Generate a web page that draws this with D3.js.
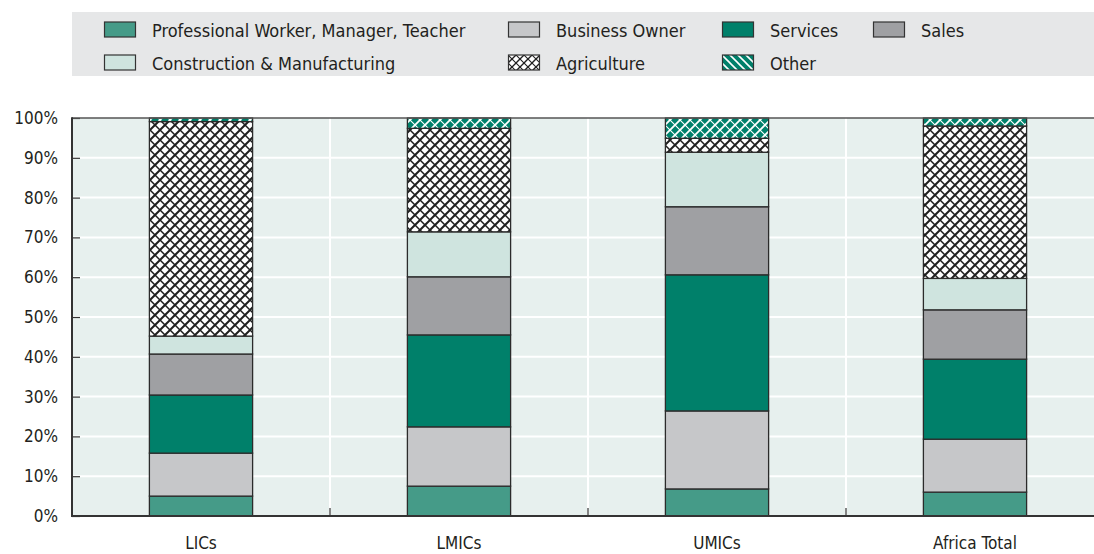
<!DOCTYPE html>
<html><head><meta charset="utf-8">
<script src="https://cdn.jsdelivr.net/npm/d3@7"></script>
<style>
html,body{margin:0;padding:0;background:#fff;}
svg{display:block;}
text{font-family:"Liberation Sans Narrow","DejaVu Sans Condensed","Roboto",sans-serif;fill:#231f20;}
</style></head>
<body><svg id="chart" width="1094" height="554"></svg>
<script>
const categories = ["LICs", "LMICs", "UMICs", "Africa Total"];
const seriesNames = ["Professional Worker, Manager, Teacher", "Business Owner", "Services", "Sales", "Construction & Manufacturing", "Agriculture", "Other"];
const professional = [5.0, 7.5, 6.8, 6.0];
const businessOwner = [10.8, 14.9, 19.6, 13.3];
const services = [14.6, 23.1, 34.2, 20.1];
const sales = [10.3, 14.6, 17.1, 12.4];
const construction = [4.5, 11.3, 13.7, 7.9];
const agriculture = [53.9, 26.0, 3.5, 38.3];
const other = [0.9, 2.6, 5.1, 2.0];
const yTicks = [0, 10, 20, 30, 40, 50, 60, 70, 80, 90, 100];
const legendOrder = [
  ["Professional Worker, Manager, Teacher", "Business Owner", "Services", "Sales"],
  ["Construction & Manufacturing", "Agriculture", "Other"]
];

const seriesValues = [professional, businessOwner, services, sales, construction, agriculture, other];
const keys = ["prof", "biz", "serv", "sales", "cons", "agri", "other"];
const fills = {prof:"#459b88", biz:"#c6c7c9", serv:"#00806a", sales:"#9fa0a3", cons:"#cfe4df", agri:"url(#hatchAgri)", other:"url(#hatchOther)"};
const legendFills = {prof:"#459b88", biz:"#c6c7c9", serv:"#00806a", sales:"#9fa0a3", cons:"#cfe4df", agri:"url(#hatchAgriLeg)", other:"url(#hatchOtherLeg)"};

const rows = categories.map((c, i) => {
  const r = {cat: c};
  keys.forEach((k, j) => r[k] = seriesValues[j][i]);
  return r;
});

const svg = d3.select("#chart");
const defs = svg.append("defs");
const FONT = '"Liberation Sans Narrow","DejaVu Sans Condensed",sans-serif';

function crossHatch(id, bg, fg, size, w1, w2) {
  const p = defs.append("pattern").attr("id", id).attr("patternUnits", "userSpaceOnUse")
    .attr("width", size).attr("height", size);
  p.append("rect").attr("width", size).attr("height", size).attr("fill", bg);
  p.append("path").attr("d", `M0,${size} L${size},0 M${-size/2},${size/2} L${size/2},${-size/2} M${size/2},${size*1.5} L${size*1.5},${size/2}`)
    .attr("stroke", fg).attr("stroke-width", w1);
  p.append("path").attr("d", `M0,0 L${size},${size} M${-size/2},${size/2} L${size/2},${size*1.5} M${size/2},${-size/2} L${size*1.5},${size/2}`)
    .attr("stroke", fg).attr("stroke-width", w2);
}
crossHatch("hatchAgri", "#ffffff", "#1f1f1f", 10, 2.0, 1.5);
crossHatch("hatchAgriLeg", "#ffffff", "#1f1f1f", 8, 1.4, 1.1);
crossHatch("hatchOther", "#00806a", "#ffffff", 10, 1.8, 1.1);
(function(){
  const size = 8;
  const p = defs.append("pattern").attr("id", "hatchOtherLeg").attr("patternUnits", "userSpaceOnUse")
    .attr("width", size).attr("height", size);
  p.append("rect").attr("width", size).attr("height", size).attr("fill", "#00806a");
  p.append("path").attr("d", `M0,0 L${size},${size} M${-size/2},${size/2} L${size/2},${size*1.5} M${size/2},${-size/2} L${size*1.5},${size/2}`)
    .attr("stroke", "#ffffff").attr("stroke-width", 1.6);
})();

const x = d3.scaleBand().domain(categories).range([72, 1104]).paddingInner(0.6).paddingOuter(0.3);
const y = d3.scaleLinear().domain([0, 100]).range([516, 118]);

// plot background
svg.append("rect").attr("x", 72).attr("y", y(100)).attr("width", 1094 - 72).attr("height", y(0) - y(100)).attr("fill", "#e7f0ee");

// horizontal gridlines
svg.append("g").selectAll("line").data(yTicks.filter(t => t > 0 && t < 100)).join("line")
  .attr("x1", 72).attr("x2", 1094).attr("y1", d => y(d)).attr("y2", d => y(d))
  .attr("stroke", "#ffffff").attr("stroke-width", 2);

// vertical gridlines between categories
const sepX = categories.slice(1).map((c, i) => (x(categories[i]) + x.bandwidth() + x(c)) / 2);
svg.append("g").selectAll("line").data(sepX).join("line")
  .attr("x1", d => d).attr("x2", d => d).attr("y1", y(100)).attr("y2", y(0))
  .attr("stroke", "#ffffff").attr("stroke-width", 2);
svg.append("g").selectAll("line").data(sepX).join("line")
  .attr("x1", d => d).attr("x2", d => d).attr("y1", y(0) - 8).attr("y2", y(0))
  .attr("stroke", "#333").attr("stroke-width", 1.2);

// stacked bars
const stack = d3.stack().keys(keys)(rows);
svg.append("g").selectAll("g").data(stack).join("g")
  .attr("fill", d => fills[d.key])
  .selectAll("rect").data(d => d).join("rect")
  .attr("x", d => x(d.data.cat)).attr("width", x.bandwidth())
  .attr("y", d => y(d[1])).attr("height", d => y(d[0]) - y(d[1]))
  .attr("stroke", "#2b2b2b").attr("stroke-width", 1.3);

// y axis
const yAxis = d3.axisLeft(y).tickValues(yTicks).tickFormat(d => d + "%").tickSize(-8).tickPadding(14);
const ga = svg.append("g").attr("transform", "translate(72,0)").call(yAxis);
ga.select(".domain").remove();
ga.selectAll(".tick line").attr("stroke", "#333").attr("stroke-width", 1.2);
ga.selectAll(".tick text").attr("font-size", 17).attr("fill", "#231f20").style("font-family", FONT);

// axis lines
svg.append("line").attr("x1", 72).attr("x2", 1094).attr("y1", y(100)).attr("y2", y(100)).attr("stroke", "#555").attr("stroke-width", 1.5);
svg.append("line").attr("x1", 72).attr("x2", 72).attr("y1", y(100) - 0.75).attr("y2", y(0) + 1).attr("stroke", "#333").attr("stroke-width", 2);
svg.append("line").attr("x1", 71).attr("x2", 1094).attr("y1", y(0)).attr("y2", y(0)).attr("stroke", "#333").attr("stroke-width", 2);

// x axis labels
const xAxis = d3.axisBottom(x).tickSize(0).tickPadding(21);
const gx = svg.append("g").attr("transform", `translate(0,${y(0)})`).call(xAxis);
gx.select(".domain").remove();
gx.selectAll(".tick text").attr("font-size", 17).attr("fill", "#231f20").style("font-family", FONT);

// legend
svg.append("rect").attr("x", 72).attr("y", 12).attr("width", 1022).attr("height", 64).attr("fill", "#e6e7e8");
const colX = [104, 508, 722, 873];
const rowY = [30, 63];
legendOrder.forEach((row, ri) => {
  row.forEach((name, ci) => {
    const k = keys[seriesNames.indexOf(name)];
    const g = svg.append("g").attr("transform", `translate(${colX[ci]},${rowY[ri]})`);
    g.append("rect").attr("x", 0.5).attr("y", -8).attr("width", 31).attr("height", 15)
      .attr("fill", legendFills[k]).attr("stroke", "#333").attr("stroke-width", 1.2);
    g.append("text").attr("x", 48).attr("y", 1).attr("dy", "0.35em").attr("font-size", 18).text(name);
  });
});
</script></body></html>
